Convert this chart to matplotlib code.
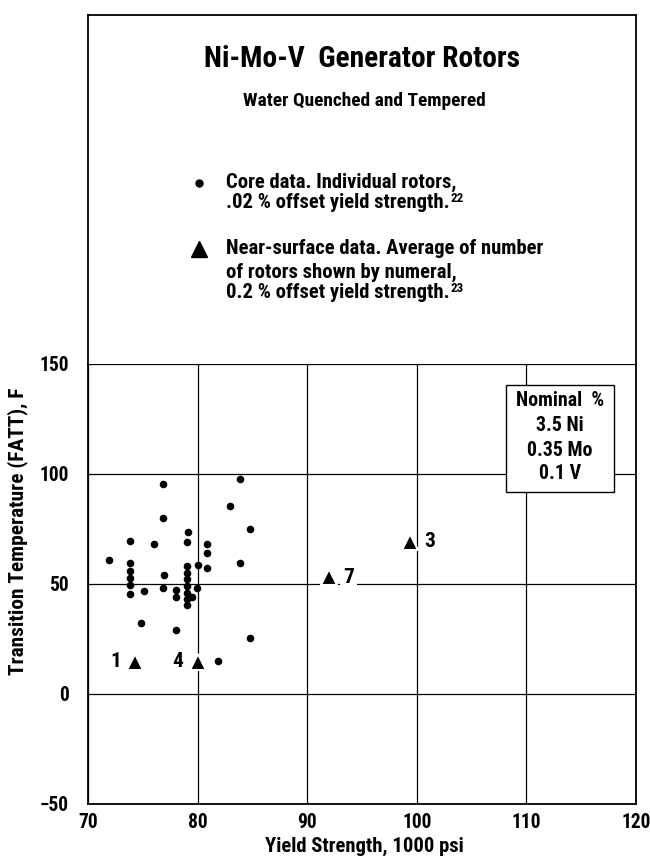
import matplotlib
matplotlib.use("Agg")
import matplotlib.pyplot as plt
from matplotlib import font_manager as fm
from matplotlib.patches import Rectangle

# pick the narrowest available sans font
names = {(f.name, f.stretch) for f in fm.fontManager.ttflist}
choice = None
for nm in ['Liberation Sans Narrow', 'Roboto Condensed', 'Open Sans Condensed',
           'Noto Sans Condensed']:
    if any(n == nm for n, _ in names):
        choice = (nm, 'normal')
        break
if choice is None:
    if ('DejaVu Sans', 'condensed') in names or ('DejaVu Sans', 'semi-condensed') in names:
        choice = ('DejaVu Sans', 'condensed')
    else:
        choice = ('Roboto', 'normal')
FAM, STRETCH = choice
plt.rcParams['font.family'] = [FAM, 'DejaVu Sans']
plt.rcParams['font.stretch'] = STRETCH
plt.rcParams['font.weight'] = 'bold'

# ---- data ----
core_x = [71.9, 73.8, 73.8, 73.8, 73.8, 73.8, 73.8, 75.1, 74.8, 76.8, 76.8, 76.0,
          76.9, 76.8, 78.0, 78.0, 78.0, 79.1, 79.0, 79.0, 79.0, 79.0, 79.0, 79.0,
          79.0, 79.0, 79.5, 79.9, 80.0, 80.9, 80.9, 80.9, 81.9, 83.0, 83.9, 83.9,
          84.8, 84.8]
core_y = [61, 69.5, 59.5, 56, 52.5, 49.5, 45.5, 46.5, 32, 95.5, 80, 68,
          54, 48, 47, 44, 29, 73.5, 69, 58, 55, 52, 49, 46,
          43, 40.5, 44, 48, 58.5, 68, 64, 57, 15, 85.5, 97.5, 59.5,
          75, 25.5]
surf_x = [74.3, 80.0, 92.0, 99.4]
surf_y = [14.5, 14.5, 53, 69]
surf_n = ['1', '4', '7', '3']
surf_side = ['left', 'left', 'right', 'right']

x_ticks = [70, 80, 90, 100, 110, 120]
y_ticks = [-50, 0, 50, 100, 150]
y_tick_labels = ['\u221250', '0', '50', '100', '150']
nominal = ['Nominal  %', '3.5 Ni', '0.35 Mo', '0.1 V']

W, H = 650, 858
fig = plt.figure(figsize=(W / 100, H / 100), dpi=100)

# scale factor so that the longest legend line is about the reference width
probe = fig.text(0, 0, 'Near-surface data. Average of number', fontsize=13.5,
                 fontweight='bold')
fig.canvas.draw()
pw = probe.get_window_extent().width
probe.remove()
K = min(1.0, 309.0 / pw) * 1.1


def fs(v):
    return v * K


def fx(px):
    return px / W


def fy(py):
    return 1 - py / H


L, R = 88, 636
B, T = 803.7, 363.7
TOP = 15

ax = fig.add_axes([fx(L), fy(B), fx(R) - fx(L), fy(T) - fy(B)])
ax.set_xlim(70, 120)
ax.set_ylim(-50, 150)
ax.set_xticks(x_ticks)
ax.set_yticks(y_ticks)
ax.set_yticklabels(y_tick_labels)
ax.tick_params(length=0, labelsize=fs(12.8), pad=7)
ax.tick_params(axis='y', pad=14)
for lab in ax.get_xticklabels() + ax.get_yticklabels():
    lab.set_fontweight('bold')
ax.grid(True, color='black', linewidth=0.9)
ax.set_axisbelow(True)
for s in ax.spines.values():
    s.set_linewidth(1.3)

ax.scatter(core_x, core_y, s=30, color='black', zorder=3, linewidths=0)
ax.plot(surf_x, surf_y, linestyle='none', marker='^', markersize=12,
        color='black', markeredgecolor='white', markeredgewidth=1.5, zorder=4)
for x, y, n, side in zip(surf_x, surf_y, surf_n, surf_side):
    off = -14 if side == 'left' else 14
    ax.annotate(n, (x, y), xytext=(off, 0), textcoords='offset points',
                ha='center', va='center', fontsize=fs(14), fontweight='bold',
                bbox=dict(boxstyle='square,pad=0.15', fc='white', ec='none'),
                zorder=5)

# nominal box
bx0, bx1 = 506, 614
by0, by1 = 385, 492
rect = Rectangle((fx(bx0), fy(by1)), fx(bx1) - fx(bx0), fy(by0) - fy(by1),
                 transform=fig.transFigure, facecolor='white', edgecolor='black',
                 linewidth=1.0, zorder=10)
fig.patches.append(rect)
for txt, py in zip(nominal, [400, 426, 450, 473]):
    fig.text(fx(560), fy(py), txt, ha='center', va='center', fontsize=fs(13),
             fontweight='bold', zorder=11)

fig.text(fx(364), fy(846), 'Yield Strength, 1000 psi', ha='center', va='center',
         fontsize=fs(13.5), fontweight='bold')
fig.text(fx(18), fy(531), 'Transition Temperature (FATT), F', rotation=90,
         ha='center', va='center', fontsize=fs(14), fontweight='bold')

# header box
hx = fig.add_axes([fx(L), fy(T), fx(R) - fx(L), fy(TOP) - fy(T)])
hx.set_xticks([])
hx.set_yticks([])
hx.spines['bottom'].set_visible(False)
for s in hx.spines.values():
    s.set_linewidth(1.3)
hx.set_xlim(0, 1)
hx.set_ylim(0, 1)

fig.text(fx(362), fy(59), 'Ni-Mo-V  Generator Rotors', ha='center', va='center',
         fontsize=fs(19.3), fontweight='bold')
fig.text(fx(364), fy(101), 'Water Quenched and Tempered', ha='center', va='center',
         fontsize=fs(12.7), fontweight='bold')

fig.lines.append(plt.Line2D([fx(199)], [fy(183)], marker='o', markersize=5,
                            color='black', transform=fig.transFigure))
fig.lines.append(plt.Line2D([fx(199)], [fy(249)], marker='^', markersize=12,
                            color='black', transform=fig.transFigure))
leg_lines = [
    ('Core data. Individual rotors,', 182, None),
    ('.02 % offset yield strength.', 203, '22'),
    ('Near-surface data. Average of number', 249, None),
    ('of rotors shown by numeral,', 272, None),
    ('0.2 % offset yield strength.', 293, '23'),
]
fig.canvas.draw()
rend = fig.canvas.get_renderer()
for txt, py, sup in leg_lines:
    t = fig.text(fx(226), fy(py), txt, ha='left', va='center', fontsize=fs(13.5),
                 fontweight='bold')
    if sup:
        bb = t.get_window_extent(renderer=rend)
        fig.text((bb.x1 + 1) / W, fy(py - 11), sup, ha='left', va='top',
                 fontsize=fs(8.5), fontweight='bold')

fig.savefig('out.png', dpi=100)
